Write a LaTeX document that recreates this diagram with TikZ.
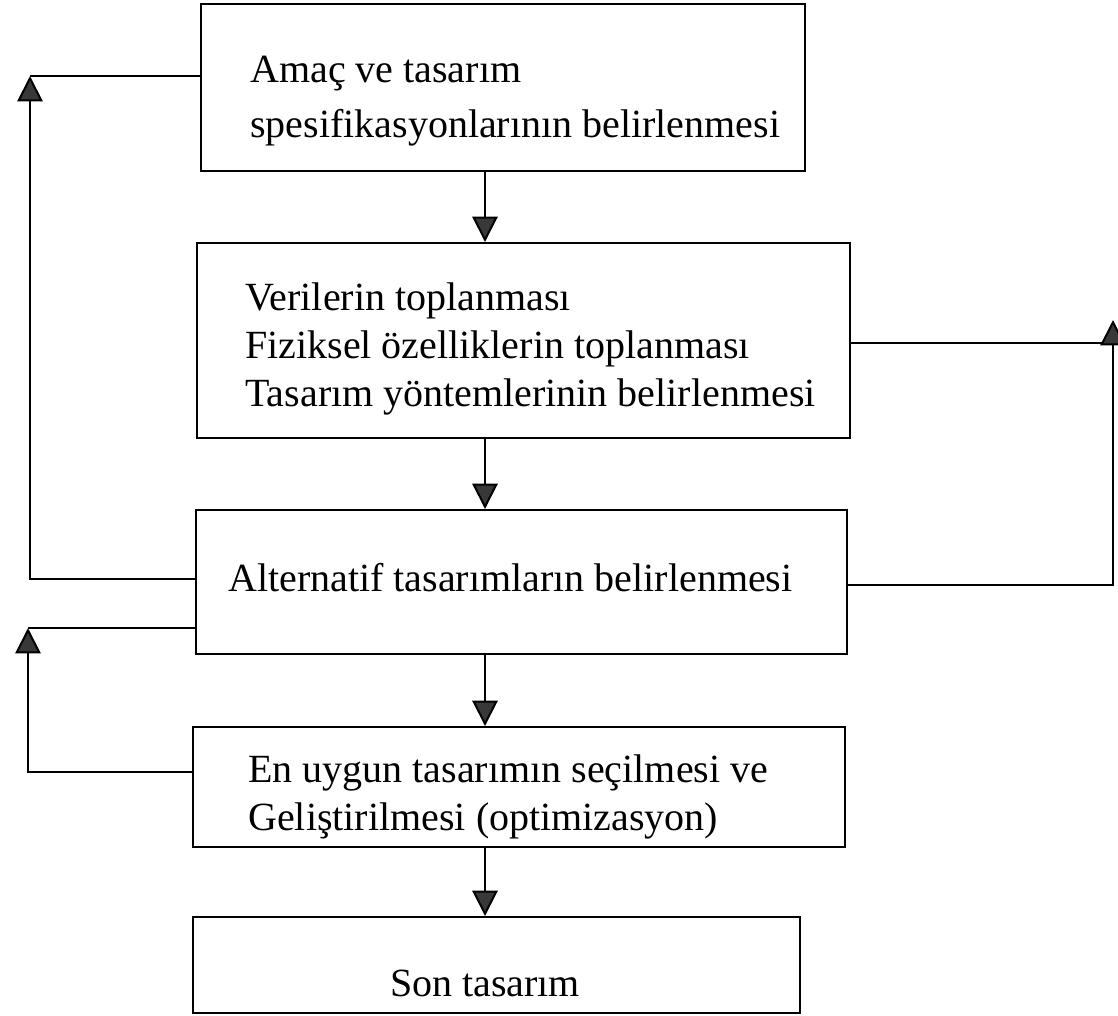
\documentclass[tikz,border=0pt]{standalone}
\usepackage{fontspec}
\setmainfont{Liberation Serif}
\usepackage{tikz}
\usetikzlibrary{arrows.meta,calc}

\tikzset{
  stage/.style={draw, line width=1.5pt, inner sep=0pt},
  caption/.style={inner sep=0pt, align=left, font=\fontsize{30}{36}\selectfont},
  flow/.style={line width=1.5pt, -{Triangle[width=19pt,length=19pt,fill=black!78]}},
  feed/.style={line width=1.5pt}
}

\begin{document}
\begin{tikzpicture}[x=0.75pt,y=0.75pt,yscale=-1,xscale=1]
\useasboundingbox (0,0) rectangle (1118,1015);

%Boxes
\node [stage, minimum width=453pt, minimum height=125.25pt] (b1) at (503,87.5) {};
\node [stage, minimum width=489.75pt, minimum height=146.25pt] (b2) at (523.5,340.5) {};
\node [stage, minimum width=488.25pt, minimum height=108pt] (b3) at (521.5,582) {};
\node [stage, minimum width=489pt, minimum height=90pt] (b4) at (519,787) {};
\node [stage, minimum width=455.25pt, minimum height=72pt] (b5) at (496.5,965) {};

% Text Nodes
\node [caption, anchor=west, font=\fontsize{30}{41}\selectfont] (t1) at (250,101) {Amaç ve tasarım\\spesifikasyonlarının belirlenmesi};
\node [caption, anchor=west] (t2) at (245,349) {Verilerin toplanması\\Fiziksel özelliklerin toplanması\\Tasarım yöntemlerinin belirlenmesi};
\node [caption, anchor=west] (t3) at (228,578) {Alternatif tasarımların belirlenmesi};
\node [caption, anchor=west] (t4) at (248,797) {En uygun tasarımın seçilmesi ve\\Geliştirilmesi (optimizasyon)};
\node [caption] (t5) at (485,983) {Son tasarım};

%Main flow
\coordinate (spine) at (485,0);
\draw [flow] (spine |- b1.south) -- (spine |- b2.north);
\draw [flow] (spine |- b2.south) -- (spine |- b3.north);
\draw [flow] (spine |- b3.south) -- (spine |- b4.north);
\draw [flow] (spine |- b4.south) -- (spine |- b5.north);

%Feedback lines
\coordinate (fb1) at (30,76);
\coordinate (fb2) at (28,628);
\coordinate (fb3) at (1113,320);
\draw [feed] (b1.west |- fb1) -- (fb1);
\draw [flow] (b3.west |- 0,579) -| (fb1);
\draw [feed] (b3.west |- fb2) -- (fb2);
\draw [flow] (b4.west |- 0,772) -| (fb2);
\draw [feed] (b2.east |- 0,343) -- (fb3 |- 0,343);
\draw [flow] (b3.east |- 0,585) -| (fb3);

\end{tikzpicture}
\end{document}
